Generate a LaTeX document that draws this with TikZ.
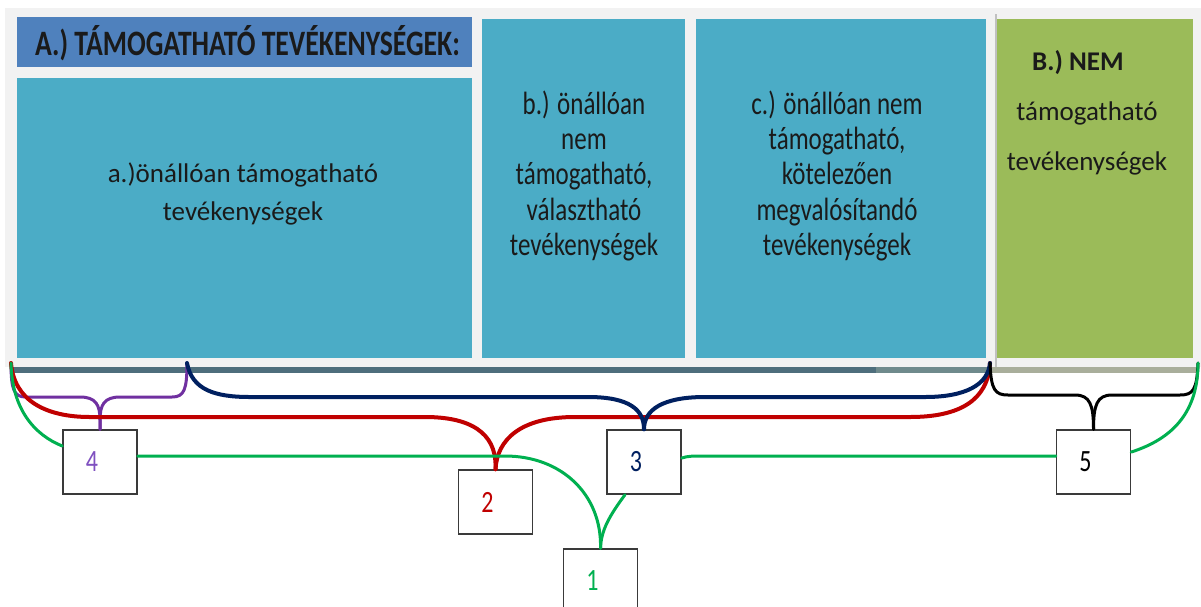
\documentclass[tikz,border=0pt]{standalone}
\usepackage{fontspec}
\setmainfont{Carlito}
\usepackage{graphicx}
\definecolor{panelgray}{HTML}{F2F2F2}
\definecolor{headblue}{HTML}{4F81BD}
\definecolor{tealbox}{HTML}{4BACC6}
\definecolor{greenbox}{HTML}{9BBB59}
\definecolor{stripa}{HTML}{4E6E7C}
\definecolor{stripb}{HTML}{6F8A8C}
\definecolor{stripc}{HTML}{A9AE9B}
\definecolor{sepgray}{HTML}{C0C0C0}
\definecolor{boxline}{HTML}{3A3A3A}
\definecolor{txtdark}{HTML}{1A1A1A}
\definecolor{bracered}{HTML}{C00000}
\definecolor{bracenavy}{HTML}{002060}
\definecolor{bracepurple}{HTML}{7030A0}
\definecolor{digitpurple}{HTML}{7F50C0}
\definecolor{linegreen}{HTML}{00B050}
\newcommand\vstretch[1]{\scalebox{1}[1.29]{#1}}
\begin{document}
\begin{tikzpicture}[x=1pt,y=-1pt,
  txt/.style={inner sep=0pt, text=txtdark},
  numbox/.style={draw=boxline, line width=1.5pt, fill=white, minimum width=74pt,
    minimum height=64pt, inner sep=0pt, font=\fontsize{24}{28}\selectfont},
  pbrace/.style={draw=bracepurple, line width=3pt, line cap=round, line join=round},
  rbrace/.style={draw=bracered, line width=4pt, line cap=round, line join=round},
  nbrace/.style={draw=bracenavy, line width=4pt, line cap=round, line join=round},
  kbrace/.style={draw=black, line width=3pt, line cap=round, line join=round},
  gline/.style={draw=linegreen, line width=3pt, line cap=round, line join=round}]
\useasboundingbox (0,0) rectangle (1201,606);
\clip (0,0) rectangle (1201,606);
\fill[white] (0,0) rectangle (1201,606);
% panel
\fill[panelgray] (5,8) rectangle (1201,367);
\fill[headblue] (17,17) rectangle (472,67);
\fill[tealbox] (17,78) rectangle (472,358);
\fill[tealbox] (482,19) rectangle (685,358);
\fill[tealbox] (696,19) rectangle (986,358);
\fill[greenbox] (997,19) rectangle (1193,358);
\draw[sepgray, line width=1.5pt] (996,14) -- (996,367);
\fill[stripa] (10,367) rectangle (876,373);
\fill[stripb] (876,367) rectangle (990,373);
\fill[stripc] (990,367) rectangle (1198,373);
% texts
\node[txt, anchor=base west, font=\fontsize{27.7}{30}\selectfont\bfseries] (thead) at (35,55)
  {\vstretch{A.) TÁMOGATHATÓ TEVÉKENYSÉGEK:}};
\node[txt, anchor=base, font=\fontsize{27}{38}\selectfont] (ta) at (243,182)
  {\begin{tabular}[t]{@{}c@{}}a.)önállóan támogatható\\tevékenységek\end{tabular}};
\node[txt, anchor=base, font=\fontsize{25}{27.5}\selectfont] (tb) at (584,114)
  {\vstretch{\begin{tabular}[t]{@{}c@{}}b.) önállóan\\nem\\támogatható,\\választható\\tevékenységek\end{tabular}}};
\node[txt, anchor=base, font=\fontsize{25}{27.5}\selectfont] (tc) at (837,114)
  {\vstretch{\begin{tabular}[t]{@{}c@{}}c.) önállóan nem\\támogatható,\\kötelezően\\megvalósítandó\\tevékenységek\end{tabular}}};
\node[txt, anchor=base west, font=\fontsize{27}{30}\selectfont\bfseries] (tB1) at (1032,70) {B.) NEM};
\node[txt, anchor=base, font=\fontsize{27}{50}\selectfont] (tB2) at (1087,120)
  {\begin{tabular}[t]{@{}c@{}}támogatható\\tevékenységek\end{tabular}};
% number boxes
\node[numbox, text=digitpurple] (b4) at (100,462) {\vstretch{4}\hspace*{16pt}};
\node[numbox, text=bracered] (b2) at (495.5,502) {\vstretch{2}\hspace*{16pt}};
\node[numbox, text=bracenavy] (b3) at (644,462) {\vstretch{3}\hspace*{16pt}};
\node[numbox, text=black] (b5) at (1093.5,462) {\vstretch{5}\hspace*{16pt}};
\node[numbox, text=linegreen] (b1) at (600.5,581) {\vstretch{1}\hspace*{16pt}};
% brace end points
\coordinate (tl) at (11,363);
\coordinate (tm) at (187,363);
\coordinate (tc) at (990,363);
\coordinate (tr) at (1198,363);
% purple brace -> 4
\draw[pbrace] (tl) .. controls (11,390) and (14,397) .. (26,397) -- (80,397)
  .. controls (96,397) and (100,405) .. (100,420) -- (b4.north);
\draw[pbrace] (tm) .. controls (187,390) and (184,397) .. (172,397) -- (120,397)
  .. controls (104,397) and (100,405) .. (100,420) -- (b4.north);
% red brace -> 2
\draw[rbrace] (tl) .. controls (14,400) and (45,417) .. (90,417) -- (425,417)
  .. controls (480,417) and (497,440) .. (b2.north);
\draw[rbrace] (tc) .. controls (988,400) and (960,417) .. (910,417) -- (575,417)
  .. controls (520,417) and (497,440) .. (b2.north);
% navy brace -> 3
\draw[nbrace] (tm) .. controls (192,390) and (215,397) .. (250,397) -- (588,397)
  .. controls (630,397) and (644,410) .. (b3.north);
\draw[nbrace] (tc) .. controls (988,385) and (965,397) .. (925,397) -- (705,397)
  .. controls (662,397) and (644,410) .. (b3.north);
% black brace -> 5
\draw[kbrace] (tc) .. controls (991,390) and (995,395) .. (1008,395) -- (1075,395)
  .. controls (1090,395) and (1093.5,405) .. (b5.north);
\draw[kbrace] (tr) .. controls (1197,390) and (1193,395) .. (1180,395) -- (1112,395)
  .. controls (1097,395) and (1093.5,405) .. (b5.north);
% green brace -> 1
\draw[gline] (tl) .. controls (12,410) and (35,435) .. ([yshift=16pt]b4.west);
\draw[gline] ([yshift=6pt]b4.east) -- (505,456) .. controls (562,456) and (602,495) .. (b1.north);
\draw[gline] ([xshift=-19pt]b3.south) .. controls (610,515) and (601,530) .. (b1.north);
\draw[gline] ([yshift=4pt]b3.east) .. controls (688,456) and (692,456) .. (705,456) -- ([yshift=6pt]b5.west);
\draw[gline] ([yshift=10pt]b5.east) .. controls (1175,438) and (1198,410) .. (tr);
\end{tikzpicture}
\end{document}
